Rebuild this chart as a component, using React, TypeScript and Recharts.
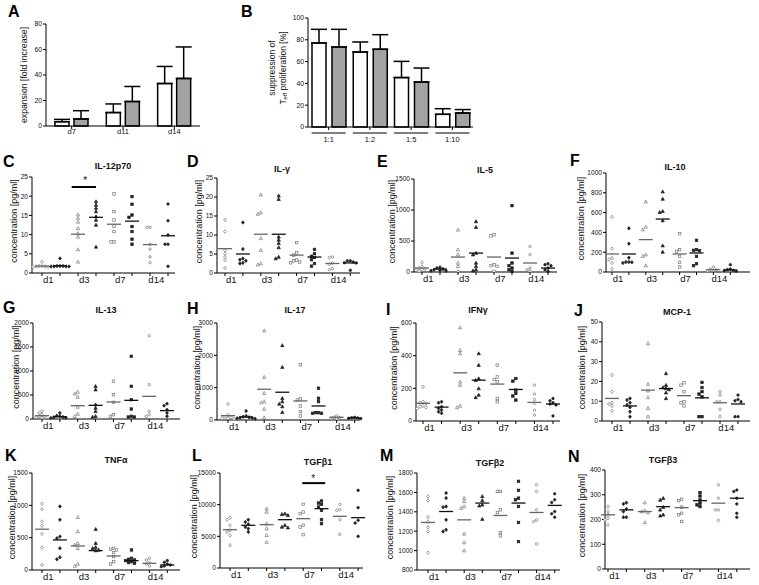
import React from 'react';
import { ScatterChart, Scatter, XAxis, YAxis, BarChart, Bar, ErrorBar, ReferenceLine } from 'recharts';

const FONT = '"Liberation Sans", Arial, Helvetica, sans-serif';

// ---------- Panel A: expansion ----------
const expDays = ['d7', 'd11', 'd14'];
const expWhite = [3.4, 10.5, 33.3];
const expWhiteErr = [1.8, 6.8, 13.4];
const expGrey = [5.5, 19.2, 37.3];
const expGreyErr = [6.5, 11.8, 24.7];
const expTicks = [0, 20, 40, 60, 80];

// ---------- Panel B: suppression ----------
const supRatios = ['1:1', '1:2', '1:5', '1:10'];
const supWhite = [77, 68.8, 45.3, 11.6];
const supWhiteErr = [12.6, 9.2, 14.9, 5.2];
const supGrey = [73.4, 71.3, 41.3, 12.8];
const supGreyErr = [16.2, 13.4, 12.8, 3.2];
const supTicks = [0, 20, 40, 60, 80, 100];

// ---------- cytokine panels ----------
const days = ['d1', 'd3', 'd7', 'd14'];

const il12p70 = [
  [2.9, 1.8, 1.7, 1.7, 1.6, 1.6, 1.8],
  [3.8, 1.8, 1.7, 1.7, 1.7, 1.7, 1.8, 1.8],
  [15.2, 14.3, 13.3, 11.6, 10.3, 9.4, 6.1, 2.9],
  [18.6, 17.7, 16.9, 16.0, 14.7, 13.8, 12.5, 6.8],
  [20.6, 16.0, 13.8, 12.2, 10.8, 8.1, 8.1],
  [19.9, 17.9, 15.1, 14.5, 12.1, 10.8, 8.8, 7.5],
  [11.9, 11.9, 7.5, 6.2, 4.2, 2.7],
  [18.0, 13.6, 9.9, 7.5, 7.5, 1.75],
];
const il12p70Mean = [1.8, 1.9, 10.1, 14.5, 12.7, 13.5, 7.4, 9.7];

const ilG = [
  [14.0, 10.9, 6.0, 5.1, 4.2, 3.4, 1.3],
  [13.3, 6.3, 3.8, 3.5, 3.2, 2.65, 2.5],
  [20.6, 15.9, 15.5, 9.1, 6.0, 2.5, 2.2],
  [20.3, 19.4, 9.5, 8.7, 7.8, 6.7, 4.2, 3.8],
  [8.0, 5.3, 4.7, 3.4, 3.2, 2.9, 2.7],
  [6.2, 5.1, 4.4, 4.1, 3.5, 2.5, 1.8],
  [4.2, 4.1, 2.65, 2.3, 1.15, 0.9],
  [3.2, 3.2, 2.9, 2.7, 2.65, 0.7],
];
const ilGMean = [6.4, 5.0, 10.2, 10.2, 4.7, 4.2, 2.5, 2.65];

const il5 = [
  [155, 91, 64, 48, 37, 27, 11],
  [75, 64, 48, 37, 27, 21, 21],
  [680, 359, 279, 145, 91, 11],
  [814, 723, 305, 279, 145, 91, 37, 21],
  [600, 584, 118, 102, 91, 11],
  [1071, 305, 145, 102, 64, 37, 11],
  [412, 279, 64, 37, 11],
  [134, 118, 102, 64, 37, 11],
];
const il5Mean = [64, 48, 241, 305, 241, 225, 145, 64];

const il10 = [
  [556, 236, 141, 125, 91, 30],
  [441, 286, 145, 101, 98, 101, 91],
  [710, 455, 428, 175, 158, 64],
  [811, 737, 613, 603, 519, 266, 202],
  [387, 226, 209, 158, 98, 51],
  [320, 226, 215, 219, 158, 84, 64],
  [51, 30, 24, 17, 10],
  [74, 30, 24, 17, 13, 7],
];
const il10Mean = [182, 182, 327, 535, 182, 192, 24, 20];

const il13 = [
  [160, 125, 90, 56, 42, 35, 21],
  [125, 69, 56, 42, 35, 28, 21],
  [563, 528, 458, 250, 104, 56],
  [681, 611, 299, 229, 160, 56, 42],
  [785, 507, 347, 90, 56],
  [1306, 681, 403, 208, 56, 42, 42],
  [1736, 715, 160, 90, 56],
  [319, 278, 194, 125, 56],
];
const il13Mean = [69, 49, 278, 285, 354, 389, 472, 174];

const il17 = [
  [497, 155, 103, 83, 52, 52, 31],
  [279, 124, 103, 83, 72, 62, 52, 41],
  [2762, 1324, 828, 569, 538, 341, 72],
  [2307, 1634, 672, 569, 497, 414, 238],
  [1707, 652, 621, 434, 259, 124],
  [983, 672, 569, 228, 207, 207, 228],
  [124, 83, 72, 52, 31],
  [83, 72, 62, 52, 41],
];
const il17Mean = [134, 93, 952, 859, 590, 434, 83, 62];

const ifng = [
  [209, 118, 112, 108, 92, 87, 83, 77],
  [118, 112, 87, 77, 67, 57, 47],
  [572, 433, 413, 240, 220, 92, 83],
  [413, 342, 260, 250, 199, 159, 144],
  [342, 270, 254, 240, 138, 118],
  [260, 244, 189, 169, 153, 128],
  [220, 165, 132, 108, 67, 37],
  [138, 124, 112, 104, 98, 31],
];
const ifngMean = [108, 85, 295, 250, 226, 193, 114, 104];

const mcp1 = [
  [23.2, 14.8, 9.2, 8.6, 7.6, 5.2],
  [11.4, 10.6, 9.2, 8.1, 6.9, 4.7, 2.2],
  [39.1, 18.6, 15.3, 11.9, 6.4, 2.2],
  [24.0, 18.1, 16.9, 16.4, 15.9, 14.3, 11.4],
  [19.3, 18.1, 14.8, 9.7, 9.2, 7.6],
  [19.5, 16.9, 14.8, 13.6, 12.2, 2.2, 2.2],
  [14.8, 13.1, 9.7, 9.7, 5.9, 2.2],
  [13.1, 10.9, 10.2, 9.7, 2.2, 2.2],
];
const mcp1Mean = [11.4, 7.6, 15.6, 16.4, 12.8, 11.7, 9.2, 8.6];

const tnfa = [
  [1024, 941, 750, 683, 559, 347, 78],
  [983, 776, 517, 491, 336, 197, 166],
  [817, 595, 414, 388, 336, 93, 62],
  [631, 414, 352, 336, 310, 300],
  [336, 320, 310, 269, 207, 129, 93],
  [310, 181, 166, 155, 145, 129, 114, 103],
  [181, 155, 114, 93, 62],
  [145, 119, 93, 78, 62, 52],
];
const tnfaMean = [631, 465, 372, 300, 217, 145, 103, 78];

const tgfb1 = [
  [7950, 7630, 6740, 5950, 5680, 5160, 3580],
  [7630, 7260, 6900, 6470, 6210, 5680],
  [9370, 8840, 7000, 6210, 5160, 4100],
  [8580, 8470, 8320, 6740, 6470, 6370],
  [10050, 8840, 8580, 6740, 6470, 5260],
  [10580, 10260, 10050, 9630, 9100, 7630, 7000],
  [10050, 9210, 9100, 7630, 5320],
  [12260, 9530, 7530, 7100, 5000],
];
const tgfb1Mean = [6050, 6740, 6840, 7630, 7790, 9370, 8160, 7950];

const tgfb2 = [
  [1559, 1517, 1345, 1300, 1241, 1197, 979],
  [1593, 1541, 1455, 1448, 1317, 1214, 1197],
  [1541, 1507, 1455, 1438, 1172, 1083, 1000],
  [1559, 1517, 1472, 1462, 1324],
  [1610, 1610, 1421, 1393, 1186, 1152],
  [1714, 1621, 1541, 1524, 1455, 1290, 1093],
  [1679, 1610, 1421, 1317, 1300, 1069],
  [1586, 1524, 1497, 1403, 1379, 1345],
];
const tgfb2Mean = [1290, 1403, 1317, 1490, 1362, 1490, 1393, 1466];

const tgfb3 = [
  [252, 232, 219, 205, 199, 178],
  [268, 263, 242, 232, 209, 209],
  [268, 236, 232, 228, 188],
  [286, 279, 250, 239, 219, 215],
  [282, 276, 250, 225, 219, 192],
  [309, 295, 279, 266, 259, 252],
  [340, 286, 239, 239, 196],
  [319, 313, 286, 263, 225, 209],
];
const tgfb3Mean = [219, 239, 232, 252, 248, 276, 266, 286];

// significance markers [x1, x2, barValue, starX, starValue]
const il12p70Sig = [1.65, 3.0, 22.4, 2.4, 24.4];
const tgfb1Sig = [3.95, 5.2, 13400, 4.55, 14300];

// ---------- layout ----------
type Cfg = {
  letter: string; title: string; L: number; R: number; T: number; B: number;
  col0: number; sp: number; yMin: number; yMax: number; yTicks: number[];
  cols: number[][]; means: number[]; lx: number; ly: number; tx: number; ty: number; yl: number;
  sig?: number[];
};

const panels: Cfg[] = [
  { letter: 'C', title: 'IL-12p70', L: 32, R: 175, T: 177, B: 273, col0: 42, sp: 18, yMin: 0, yMax: 25, yTicks: [0, 5, 10, 15, 20, 25], cols: il12p70, means: il12p70Mean, lx: 3, ly: 167, tx: 113, ty: 169, yl: 13.5, sig: il12p70Sig },
  { letter: 'D', title: 'IL-γ', L: 217, R: 360, T: 178, B: 273, col0: 225, sp: 17.9, yMin: 0, yMax: 25, yTicks: [0, 5, 10, 15, 20, 25], cols: ilG, means: ilGMean, lx: 187, ly: 167, tx: 282, ty: 172, yl: 198.5 },
  { letter: 'E', title: 'IL-5', L: 414, R: 557, T: 179, B: 272, col0: 422, sp: 18, yMin: 0, yMax: 1500, yTicks: [0, 500, 1000, 1500], cols: il5, means: il5Mean, lx: 377, ly: 167, tx: 485, ty: 173, yl: 391.5 },
  { letter: 'F', title: 'IL-10', L: 606, R: 750, T: 173, B: 272, col0: 612, sp: 16.9, yMin: 0, yMax: 1000, yTicks: [0, 200, 400, 600, 800, 1000], cols: il10, means: il10Mean, lx: 570, ly: 166, tx: 675, ty: 170, yl: 580.5 },
  { letter: 'G', title: 'IL-13', L: 33, R: 180, T: 323, B: 419, col0: 42, sp: 17.86, yMin: 0, yMax: 2000, yTicks: [0, 500, 1000, 1500, 2000], cols: il13, means: il13Mean, lx: 3, ly: 313, tx: 106, ty: 313, yl: 15.5 },
  { letter: 'H', title: 'IL-17', L: 217, R: 360, T: 323, B: 420, col0: 228, sp: 18.1, yMin: 0, yMax: 3000, yTicks: [0, 1000, 2000, 3000], cols: il17, means: il17Mean, lx: 187, ly: 314, tx: 295, ty: 313, yl: 196.5 },
  { letter: 'I', title: 'IFNγ', L: 416, R: 560, T: 323, B: 421, col0: 423, sp: 18.57, yMin: 0, yMax: 600, yTicks: [0, 200, 400, 600], cols: ifng, means: ifngMean, lx: 386, ly: 315, tx: 478, ty: 313, yl: 393.5 },
  { letter: 'J', title: 'MCP-1', L: 602, R: 750, T: 322, B: 421, col0: 612, sp: 18, yMin: 0, yMax: 50, yTicks: [0, 10, 20, 30, 40, 50], cols: mcp1, means: mcp1Mean, lx: 574, ly: 316, tx: 677, ty: 315, yl: 581.5 },
  { letter: 'K', title: 'TNFα', L: 32, R: 180, T: 473, B: 570, col0: 42, sp: 17.9, yMin: 0, yMax: 1500, yTicks: [0, 500, 1000, 1500], cols: tnfa, means: tnfaMean, lx: 5, ly: 461, tx: 116, ty: 463, yl: 12 },
  { letter: 'L', title: 'TGFβ1', L: 220, R: 363, T: 473, B: 568, col0: 230, sp: 18.3, yMin: 0, yMax: 15000, yTicks: [0, 5000, 10000, 15000], cols: tgfb1, means: tgfb1Mean, lx: 192, ly: 461, tx: 318, ty: 465, yl: 193.5, sig: tgfb1Sig },
  { letter: 'M', title: 'TGFβ2', L: 417, R: 560, T: 473, B: 570, col0: 428, sp: 18.1, yMin: 800, yMax: 1800, yTicks: [800, 1000, 1200, 1400, 1600, 1800], cols: tgfb2, means: tgfb2Mean, lx: 380, ly: 461, tx: 490, ty: 466, yl: 389.5 },
  { letter: 'N', title: 'TGFβ3', L: 605, R: 750, T: 470, B: 569, col0: 608, sp: 18.4, yMin: 0, yMax: 400, yTicks: [0, 100, 200, 300, 400], cols: tgfb3, means: tgfb3Mean, lx: 568, ly: 462, tx: 663, ty: 463, yl: 581.5 },
];

// horizontal de-overlap of close points (beeswarm-like), returns px offsets
function spread(vals: number[], range: number): number[] {
  const thr = range * 0.03;
  const offs = [0, -3, 3, -6, 6, -9, 9, -12, 12];
  const res = new Array(vals.length).fill(0);
  const placed: { v: number; dx: number }[] = [];
  const order = vals.map((v, i) => [v, i]).sort((a, b) => b[0] - a[0]);
  for (const [v, i] of order) {
    const used = placed.filter((p) => Math.abs(p.v - v) < thr).map((p) => p.dx);
    const dx = offs.find((o) => !used.some((u) => Math.abs(u - o) < 2.5)) ?? 0;
    placed.push({ v, dx });
    res[i] = dx;
  }
  return res;
}

const Sym = (props: any) => {
  const { cx, cy, payload } = props;
  if (cx == null || cy == null) return <g />;
  const x = cx + (payload.dx || 0);
  const filled = payload.filled;
  const fill = filled ? '#222' : '#fff';
  const stroke = filled ? '#222' : '#777';
  const r = 1.45;
  const k = payload.kind;
  if (k === 0) return <polygon points={`${x},${cy - r - 0.3} ${x + r},${cy} ${x},${cy + r + 0.3} ${x - r},${cy}`} fill={fill} stroke={stroke} strokeWidth={0.7} />;
  if (k === 1) return <polygon points={`${x},${cy - r - 0.3} ${x + r + 0.2},${cy + r - 0.2} ${x - r - 0.2},${cy + r - 0.2}`} fill={fill} stroke={stroke} strokeWidth={0.7} />;
  if (k === 2) return <rect x={x - r + 0.2} y={cy - r + 0.2} width={2 * r - 0.4} height={2 * r - 0.4} fill={fill} stroke={stroke} strokeWidth={0.7} />;
  return <circle cx={x} cy={cy} r={r - 0.2} fill={fill} stroke={stroke} strokeWidth={0.7} />;
};

const MeanLine = (props: any) => {
  const { cx, cy, payload } = props;
  if (cx == null || cy == null) return <g />;
  return <line x1={cx - 7} x2={cx + 7} y1={cy} y2={cy} stroke={payload.open ? '#666' : '#111'} strokeWidth={1.3} />;
};

const Star = (props: any) => {
  const { cx, cy } = props;
  if (cx == null || cy == null) return <g />;
  return <text x={cx} y={cy + 5} textAnchor="middle" fontSize={10} fill="#111">*</text>;
};

const YW = 40, MT = 10, MR = 4, XH = 16;
const xTicks = [0, 0.35, 1, 2, 2.35, 3, 4, 4.35, 5, 6, 6.35, 7];

const XTick = (props: any) => {
  const { x, y, payload } = props;
  const v = payload.value;
  if (Number.isInteger(v)) return <g><line x1={x} x2={x} y1={y} y2={y + 3} stroke="#000" /></g>;
  return <g><text x={x} y={y + 10} textAnchor="middle" fontSize={9.5} fill="#111">{days[Math.floor(v / 2)]}</text></g>;
};

function ScatterPanel({ p }: { p: Cfg }) {
  const w = p.R - p.L + YW + MR;
  const h = p.B - p.T + MT + XH;
  const x0 = (p.L - p.col0) / p.sp;
  const x1 = (p.R - p.col0) / p.sp;
  const range = p.yMax - p.yMin;
  return (
    <div style={{ position: 'absolute', left: p.L - YW, top: p.T - MT }}>
      <ScatterChart width={w} height={h} margin={{ top: MT, right: MR, bottom: 0, left: 0 }}>
        <XAxis type="number" dataKey="x" domain={[x0, x1]} ticks={xTicks} interval={0} tick={XTick} tickLine={false} tickSize={0} tickMargin={0} axisLine={{ stroke: '#000' }} height={XH} />
        <YAxis type="number" dataKey="y" domain={[p.yMin, p.yMax]} ticks={p.yTicks} interval={0} width={YW} tickSize={3} tickMargin={1} tick={{ fontSize: 6.6, fill: '#111' }} axisLine={{ stroke: '#000' }} tickLine={{ stroke: '#000' }} />
        {p.cols.map((vals, i) => {
          const dxs = spread(vals, range);
          const data = vals.map((v, j) => ({ x: i, y: v, dx: dxs[j], kind: Math.floor(i / 2), filled: i % 2 === 1 }));
          return <Scatter key={i} data={data} shape={Sym} isAnimationActive={false} />;
        })}
        <Scatter data={p.means.map((m, i) => ({ x: i, y: m, open: i % 2 === 0 }))} shape={MeanLine} isAnimationActive={false} />
        {p.sig && (
          <ReferenceLine segment={[{ x: p.sig[0], y: p.sig[2] }, { x: p.sig[1], y: p.sig[2] }]} stroke="#000" strokeWidth={2} />
        )}
        {p.sig && <Scatter data={[{ x: p.sig[3], y: p.sig[4] }]} shape={Star} isAnimationActive={false} />}
      </ScatterChart>
    </div>
  );
}

function PanelA() {
  const L = 46, R = 200, T = 24, B = 126, yw = 30, mt = 6, mr = 2, xh = 16;
  const data = expDays.map((d, i) => ({ d, w: expWhite[i], we: [0, expWhiteErr[i]], g: expGrey[i], ge: [0, expGreyErr[i]] }));
  return (
    <div style={{ position: 'absolute', left: L - yw, top: T - mt }}>
      <BarChart width={R - L + yw + mr} height={B - T + mt + xh} data={data} margin={{ top: mt, right: mr, bottom: 0, left: 0 }} barGap={5} barSize={14}>
        <XAxis dataKey="d" tickSize={3} tickMargin={0} height={xh} tick={{ fontSize: 7.5, fill: '#111' }} axisLine={{ stroke: '#000' }} tickLine={{ stroke: '#000' }} />
        <YAxis domain={[0, 80]} ticks={expTicks} interval={0} width={yw} tickSize={3} tickMargin={1} tick={{ fontSize: 6.8, fill: '#111' }} axisLine={{ stroke: '#000' }} tickLine={{ stroke: '#000' }} />
        <Bar dataKey="w" fill="#fff" stroke="#000" strokeWidth={1.5} isAnimationActive={false}>
          <ErrorBar dataKey="we" width={8} stroke="#000" strokeWidth={1.5} direction="y" isAnimationActive={false} />
        </Bar>
        <Bar dataKey="g" fill="#a3a3a3" stroke="#000" strokeWidth={1.5} isAnimationActive={false}>
          <ErrorBar dataKey="ge" width={8} stroke="#000" strokeWidth={1.5} direction="y" isAnimationActive={false} />
        </Bar>
      </BarChart>
    </div>
  );
}

const BTick = (props: any) => {
  const { x, y, payload } = props;
  return (
    <g>
      <line x1={x - 17} x2={x + 17} y1={y + 3} y2={y + 3} stroke="#000" strokeWidth={1} />
      <text x={x} y={y + 12} textAnchor="middle" fontSize={7.5} fill="#111">{payload.value}</text>
    </g>
  );
};

function PanelB() {
  const L = 308, R = 473, T = 18, B = 127, yw = 30, mt = 6, mr = 2, xh = 20;
  const data = supRatios.map((d, i) => ({ d, w: supWhite[i], we: [0, supWhiteErr[i]], g: supGrey[i], ge: [0, supGreyErr[i]] }));
  return (
    <div style={{ position: 'absolute', left: L - yw, top: T - mt }}>
      <BarChart width={R - L + yw + mr} height={B - T + mt + xh} data={data} margin={{ top: mt, right: mr, bottom: 0, left: 0 }} barGap={6} barSize={14}>
        <XAxis dataKey="d" tickSize={3} tickMargin={0} height={xh} tick={BTick} interval={0} axisLine={{ stroke: '#000' }} tickLine={{ stroke: '#000' }} />
        <YAxis domain={[0, 100]} ticks={supTicks} interval={0} width={yw} tickSize={3} tickMargin={1} tick={{ fontSize: 6.8, fill: '#111' }} axisLine={{ stroke: '#000' }} tickLine={{ stroke: '#000' }} />
        <Bar dataKey="w" fill="#fff" stroke="#000" strokeWidth={1.5} isAnimationActive={false}>
          <ErrorBar dataKey="we" width={8} stroke="#000" strokeWidth={1.5} direction="y" isAnimationActive={false} />
        </Bar>
        <Bar dataKey="g" fill="#a3a3a3" stroke="#000" strokeWidth={1.5} isAnimationActive={false}>
          <ErrorBar dataKey="ge" width={8} stroke="#000" strokeWidth={1.5} direction="y" isAnimationActive={false} />
        </Bar>
      </BarChart>
    </div>
  );
}

function Overlay() {
  return (
    <svg width={759} height={585} style={{ position: 'absolute', left: 0, top: 0, pointerEvents: 'none' }}>
      <text x={8} y={17} fontSize={16} fontWeight="bold" fill="#000">A</text>
      <text x={241} y={17} fontSize={16} fontWeight="bold" fill="#000">B</text>
      <text transform="rotate(-90 24 75)" x={24} y={75} textAnchor="middle" dominantBaseline="central" fontSize={8.7} fill="#111">expansion [fold increase]</text>
      <text transform="rotate(-90 272 68)" x={272} y={68} textAnchor="middle" dominantBaseline="central" fontSize={8.5} fill="#111">suppression of</text>
      <text transform="rotate(-90 283 68)" x={283} y={68} textAnchor="middle" dominantBaseline="central" fontSize={8.5} fill="#111">
        <tspan>T</tspan><tspan fontSize={6} dy={2}>eff</tspan><tspan dy={-2}> proliferation [%]</tspan>
      </text>
      {panels.map((p) => (
        <g key={p.letter}>
          <text x={p.lx} y={p.ly} fontSize={16} fontWeight="bold" fill="#000">{p.letter}</text>
          <text x={p.tx} y={p.ty} fontSize={9} fontWeight="bold" textAnchor="middle" fill="#111">{p.title}</text>
          <text transform={`rotate(-90 ${p.yl} ${(p.T + p.B) / 2 - 4})`} x={p.yl} y={(p.T + p.B) / 2 - 4} textAnchor="middle" dominantBaseline="central" fontSize={9} fill="#111">concentration [pg/ml]</text>
        </g>
      ))}
    </svg>
  );
}

export default function App() {
  return (
    <div style={{ position: 'absolute', left: 0, top: 0, width: 759, height: 585, background: '#fff', fontFamily: FONT, overflow: 'hidden' }}>
      <PanelA />
      <PanelB />
      {panels.map((p) => <ScatterPanel key={p.letter} p={p} />)}
      <Overlay />
    </div>
  );
}
